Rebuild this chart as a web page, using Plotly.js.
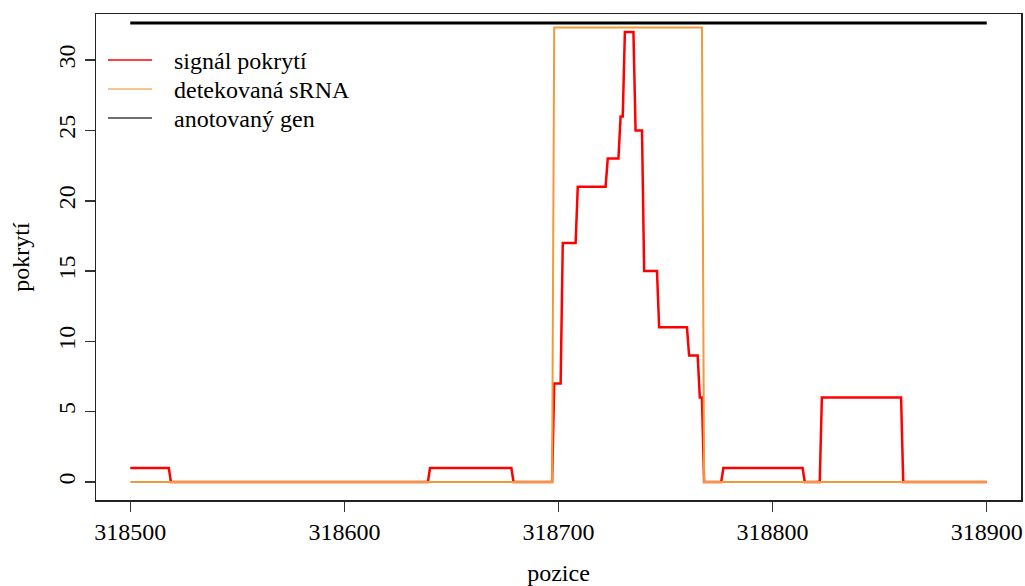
<!DOCTYPE html>
<html>
<head>
<meta charset="utf-8">
<script src="https://cdn.plot.ly/plotly-3.0.1.min.js"></script>
<style>html,body{margin:0;padding:0;background:#fff;}#chart{width:1025px;height:586px;}</style>
</head>
<body>
<div id="chart"></div>
<script>
// Coverage signal (step breakpoints: genomic position, coverage)
var signalPos = [318500, 318518, 318519, 318639, 318640, 318678, 318679, 318697,
                 318698, 318701, 318702, 318708, 318709, 318722, 318723, 318728,
                 318729, 318730, 318731, 318735, 318736, 318739, 318740, 318746,
                 318747, 318760, 318761, 318765, 318766, 318767, 318768,
                 318776, 318777, 318814, 318815, 318822, 318823, 318860, 318861, 318900];
var signalCov = [1, 1, 0, 0, 1, 1, 0, 0,
                 7, 7, 17, 17, 21, 21, 23, 23,
                 26, 26, 32, 32, 25, 25, 15, 15,
                 11, 11, 9, 9, 6, 6, 0,
                 0, 1, 1, 0, 0, 6, 6, 0, 0];
// Detected sRNA region
var srnaPos = [318500, 318697, 318698, 318767, 318768, 318900];
var srnaVal = [0, 0, 32.32, 32.32, 0, 0];
// Annotated gene
var genePos = [318500, 318900];
var geneVal = [32.64, 32.64];

var xTicks = [318500, 318600, 318700, 318800, 318900];
var yTicks = [0, 5, 10, 15, 20, 25, 30];
var seriesNames = ['signál pokrytí', 'detekovaná sRNA', 'anotovaný gen'];
var seriesColors = ['#ff0000', '#f39a38', '#000000'];

var FONT = 'Liberation Serif, Times New Roman, serif';

var traces = [
  {x: signalPos, y: signalCov, name: seriesNames[0], mode: 'lines',
   line: {color: seriesColors[0], width: 2.5, simplify: false}},
  {x: srnaPos, y: srnaVal, name: seriesNames[1], mode: 'lines',
   line: {color: seriesColors[1], width: 2, simplify: false}},
  {x: genePos, y: geneVal, name: seriesNames[2], mode: 'lines',
   line: {color: seriesColors[2], width: 3}}
];

// legend drawn manually (R-style, inside top-left)
var W = 1025, H = 586, mL = 96, mR = 4, mT = 14, mB = 86;
var pw = W - mL - mR, ph = H - mT - mB;
function px2x(p){ return (p - mL) / pw; }
function py2y(p){ return (H - mB - p) / ph; }
var legRows = [60, 89, 118];
var shapes = [], annotations = [];
for (var i = 0; i < seriesNames.length; i++) {
  shapes.push({type: 'line', xref: 'paper', yref: 'paper',
    x0: px2x(108), x1: px2x(152), y0: py2y(legRows[i]), y1: py2y(legRows[i]),
    line: {color: seriesColors[i], width: 1.5}, opacity: i === 0 ? 1 : 0.75});
  annotations.push({xref: 'paper', yref: 'paper', x: px2x(172), y: py2y(legRows[i] + 1),
    xanchor: 'left', yanchor: 'middle', showarrow: false, text: seriesNames[i],
    font: {family: FONT, size: 24, color: '#000'}});
}

var layout = {
  width: W, height: H,
  margin: {l: mL, r: mR, t: mT, b: mB, pad: 0},
  paper_bgcolor: '#fff', plot_bgcolor: '#fff',
  showlegend: false,
  font: {family: FONT, size: 24, color: '#000'},
  xaxis: {
    range: [318484, 318916], tickvals: xTicks, ticktext: xTicks.map(String),
    ticks: 'outside', ticklen: 10, tickwidth: 1.5, tickcolor: '#333',
    showline: true, mirror: true, linecolor: '#222', linewidth: 1.5,
    showgrid: false, zeroline: false, automargin: false,
    tickfont: {family: FONT, size: 24, color: '#000'},
    title: {text: 'pozice', font: {family: FONT, size: 24, color: '#000'}, standoff: 21}
  },
  yaxis: {
    range: [-1.28, 33.28], tickvals: yTicks, ticktext: yTicks.map(String),
    tickangle: -90,
    ticks: 'outside', ticklen: 10, tickwidth: 1.5, tickcolor: '#333',
    showline: true, mirror: true, linecolor: '#222', linewidth: 1.5,
    showgrid: false, zeroline: false, automargin: false,
    tickfont: {family: FONT, size: 24, color: '#000'},
    title: {text: 'pokrytí', font: {family: FONT, size: 24, color: '#000'}, standoff: 17}
  },
  shapes: shapes,
  annotations: annotations
};

Plotly.newPlot('chart', traces, layout, {staticPlot: true, displayModeBar: false});
</script>
</body>
</html>
